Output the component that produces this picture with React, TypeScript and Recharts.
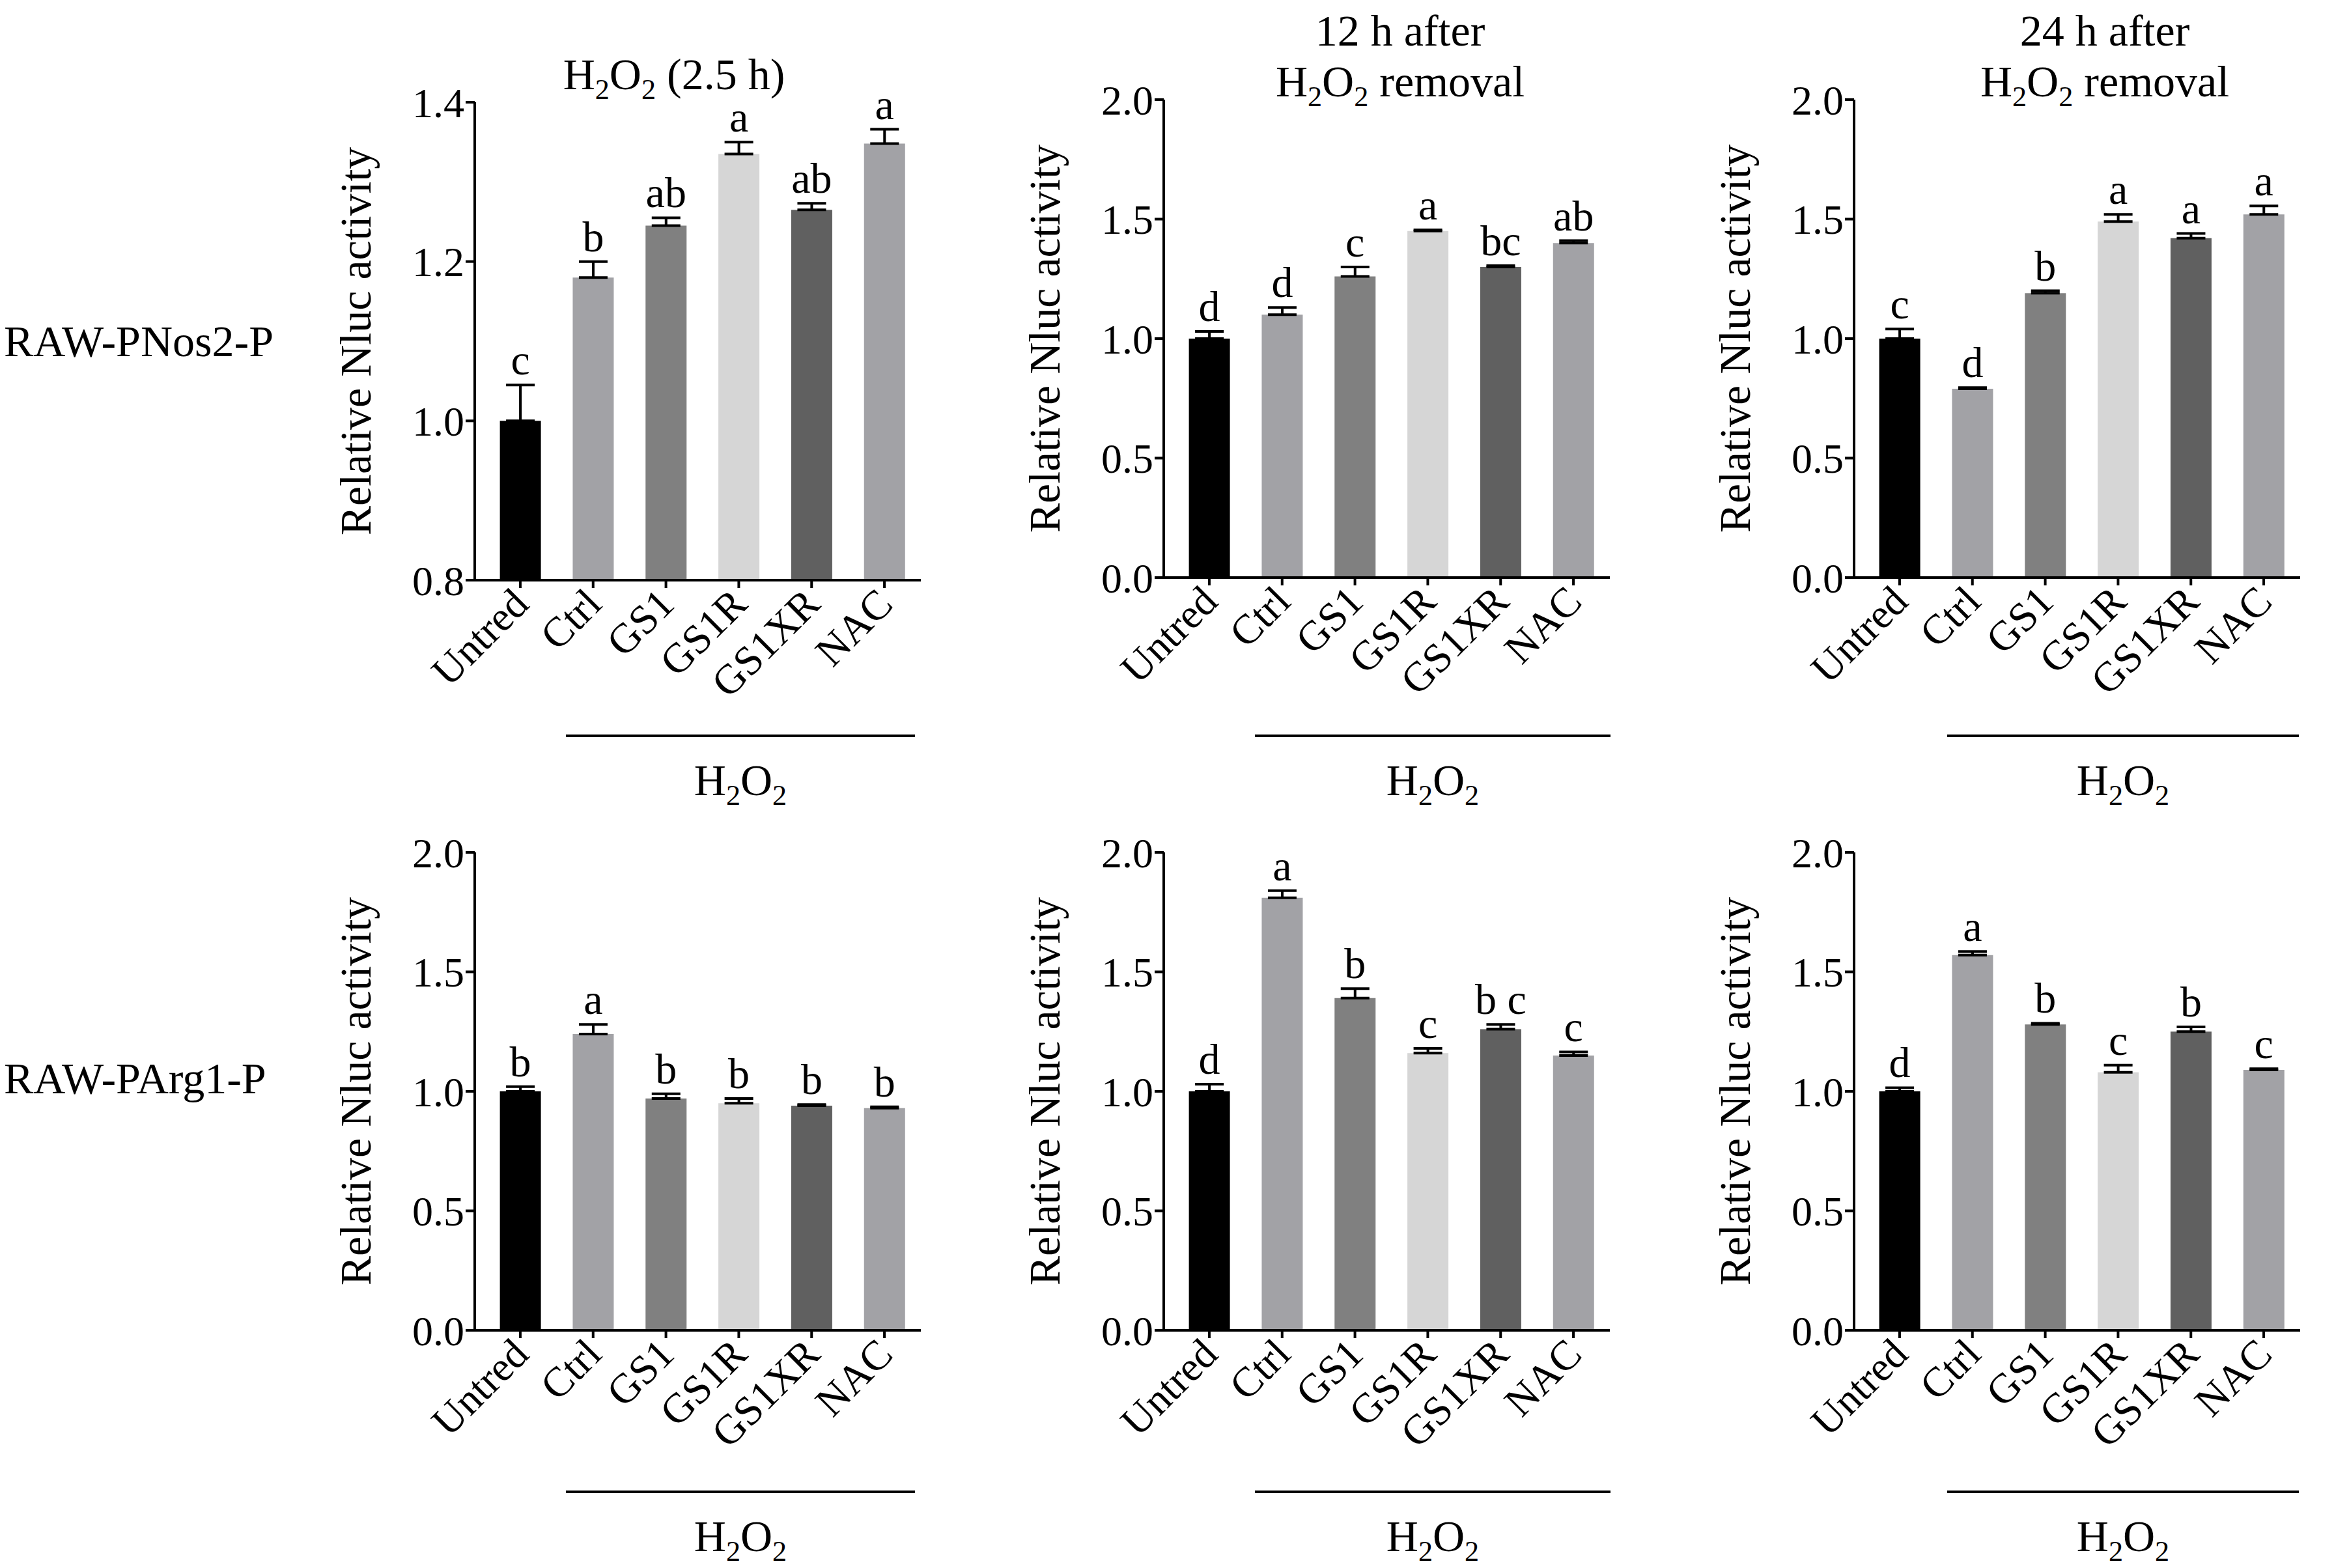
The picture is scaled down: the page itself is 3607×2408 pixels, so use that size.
import React from 'react';
import { BarChart, Bar, XAxis, YAxis, ErrorBar, LabelList, Cell } from 'recharts';

const categories = ['Untred', 'Ctrl', 'GS1', 'GS1R', 'GS1XR', 'NAC'];
const barColors = ['#000000', '#a2a2a6', '#808080', '#d6d6d6', '#606060', '#a2a2a6'];

const p1Values = [1.0, 1.18, 1.245, 1.335, 1.265, 1.348];
const p1Errors = [0.045, 0.02, 0.01, 0.015, 0.008, 0.018];
const p1Letters = ['c', 'b', 'ab', 'a', 'ab', 'a'];

const p2Values = [1.0, 1.1, 1.26, 1.45, 1.3, 1.4];
const p2Errors = [0.03, 0.03, 0.04, 0.005, 0.005, 0.01];
const p2Letters = ['d', 'd', 'c', 'a', 'bc', 'ab'];

const p3Values = [1.0, 0.79, 1.19, 1.49, 1.42, 1.52];
const p3Errors = [0.04, 0.005, 0.01, 0.03, 0.02, 0.035];
const p3Letters = ['c', 'd', 'b', 'a', 'a', 'a'];

const p4Values = [1.0, 1.24, 0.97, 0.95, 0.94, 0.93];
const p4Errors = [0.02, 0.04, 0.02, 0.02, 0.005, 0.005];
const p4Letters = ['b', 'a', 'b', 'b', 'b', 'b'];

const p5Values = [1.0, 1.81, 1.39, 1.16, 1.26, 1.15];
const p5Errors = [0.03, 0.03, 0.04, 0.02, 0.02, 0.015];
const p5Letters = ['d', 'a', 'b', 'c', 'b c', 'c'];

const p6Values = [1.0, 1.57, 1.28, 1.08, 1.25, 1.09];
const p6Errors = [0.015, 0.015, 0.005, 0.03, 0.02, 0.005];
const p6Letters = ['d', 'a', 'b', 'c', 'b', 'c'];

const wideTicks = [0.0, 0.5, 1.0, 1.5, 2.0];
const narrowTicks = [0.8, 1.0, 1.2, 1.4];

const FONT = '"Liberation Serif", "Times New Roman", serif';
const PLOT_W = 685;
const PLOT_H = 734;
const M_TOP = 90;
const Y_W = 260;

const RotTick = (props: any) => {
  const { x, y, payload } = props;
  return (
    <text x={x + 16} y={y + 26} textAnchor="end" transform={`rotate(-45 ${x + 16} ${y + 26})`}
      fontSize={64} fontFamily={FONT} fill="#000">{payload.value}</text>
  );
};

const Panel = ({ values, errors, letters, domain, ticks, axisX, plotTop }: any) => {
  const data = categories.map((c, i) => ({ name: c, value: values[i], err: [0, errors[i]], letter: letters[i], e: errors[i] }));
  const pxPerUnit = PLOT_H / (domain[1] - domain[0]);
  const letterContent = (p: any) => {
    const { x, y, width, index } = p;
    const d = data[index];
    return (
      <text x={x + width / 2} y={y - d.e * pxPerUnit - 16} textAnchor="middle" fontSize={66}
        fontFamily={FONT} fill="#000">{d.letter}</text>
    );
  };
  return (
    <div style={{ position: 'absolute', left: axisX - Y_W, top: plotTop - M_TOP }}>
      <BarChart width={Y_W + PLOT_W + 10} height={M_TOP + PLOT_H + 260} data={data}
        margin={{ top: M_TOP, right: 10, left: 0, bottom: 0 }} barCategoryGap="22%">
        <XAxis dataKey="name" tick={<RotTick />} interval={0} height={260}
          axisLine={{ stroke: '#000', strokeWidth: 4 }} tickLine={{ stroke: '#000', strokeWidth: 4 }} tickSize={12}
          padding={{ left: 14, right: 0 }} />
        <YAxis domain={domain} ticks={ticks} width={Y_W} allowDataOverflow
          tickFormatter={(v: number) => v.toFixed(1)}
          tick={{ fontSize: 64, fontFamily: FONT, fill: '#000' }}
          axisLine={{ stroke: '#000', strokeWidth: 4 }} tickLine={{ stroke: '#000', strokeWidth: 4 }} tickSize={14}
          label={{ value: 'Relative Nluc activity', angle: -90, position: 'insideLeft', offset: 0, dx: 76,
            style: { fontSize: 68, fontFamily: FONT, fill: '#000', textAnchor: 'middle' } }} />
        <Bar dataKey="value" isAnimationActive={false}>
          {data.map((d, i) => <Cell key={i} fill={barColors[i]} />)}
          <ErrorBar dataKey="err" direction="y" width={22} stroke="#000" strokeWidth={4} />
          <LabelList dataKey="letter" content={letterContent} />
        </Bar>
      </BarChart>
    </div>
  );
};

const txt: React.CSSProperties = { position: 'absolute', fontFamily: FONT, fontSize: 68, color: '#000', whiteSpace: 'nowrap', lineHeight: 1 };
const H2O2 = () => <span>H<sub style={{ fontSize: '0.65em' }}>2</sub>O<sub style={{ fontSize: '0.65em' }}>2</sub></span>;

const Bracket = ({ x1, x2, y }: any) => (
  <>
    <div style={{ position: 'absolute', left: x1, top: y, width: x2 - x1, height: 4, background: '#000' }} />
    <div style={{ ...txt, left: (x1 + x2) / 2, top: y + 36, transform: 'translateX(-50%)' }}><H2O2 /></div>
  </>
);

export default function App() {
  const colX = [729, 1787, 2847];
  const rowTop = [153, 1309];
  return (
    <div style={{ position: 'absolute', left: 0, top: 0, width: 3607, height: 2408, background: '#fff', overflow: 'hidden' }}>
      <Panel values={p1Values} errors={p1Errors} letters={p1Letters} domain={[0.8, 1.4]} ticks={narrowTicks} axisX={colX[0]} plotTop={rowTop[0] + 4} />
      <Panel values={p2Values} errors={p2Errors} letters={p2Letters} domain={[0, 2]} ticks={wideTicks} axisX={colX[1]} plotTop={rowTop[0]} />
      <Panel values={p3Values} errors={p3Errors} letters={p3Letters} domain={[0, 2]} ticks={wideTicks} axisX={colX[2]} plotTop={rowTop[0]} />
      <Panel values={p4Values} errors={p4Errors} letters={p4Letters} domain={[0, 2]} ticks={wideTicks} axisX={colX[0]} plotTop={rowTop[1]} />
      <Panel values={p5Values} errors={p5Errors} letters={p5Letters} domain={[0, 2]} ticks={wideTicks} axisX={colX[1]} plotTop={rowTop[1]} />
      <Panel values={p6Values} errors={p6Errors} letters={p6Letters} domain={[0, 2]} ticks={wideTicks} axisX={colX[2]} plotTop={rowTop[1]} />

      <div style={{ ...txt, left: 1035, top: 80, transform: 'translateX(-50%)' }}><H2O2 /> (2.5 h)</div>
      <div style={{ ...txt, left: 2150, top: 8, transform: 'translateX(-50%)', textAlign: 'center', lineHeight: 1.15 }}>12 h after<br /><H2O2 /> removal</div>
      <div style={{ ...txt, left: 3232, top: 8, transform: 'translateX(-50%)', textAlign: 'center', lineHeight: 1.15 }}>24 h after<br /><H2O2 /> removal</div>

      <div style={{ ...txt, left: 6, top: 490 }}>RAW-PNos2-P</div>
      <div style={{ ...txt, left: 6, top: 1622 }}>RAW-PArg1-P</div>

      <Bracket x1={869} x2={1405} y={1128} />
      <Bracket x1={1927} x2={2473} y={1128} />
      <Bracket x1={2990} x2={3530} y={1128} />
      <Bracket x1={869} x2={1405} y={2289} />
      <Bracket x1={1927} x2={2473} y={2289} />
      <Bracket x1={2990} x2={3530} y={2289} />
    </div>
  );
}
